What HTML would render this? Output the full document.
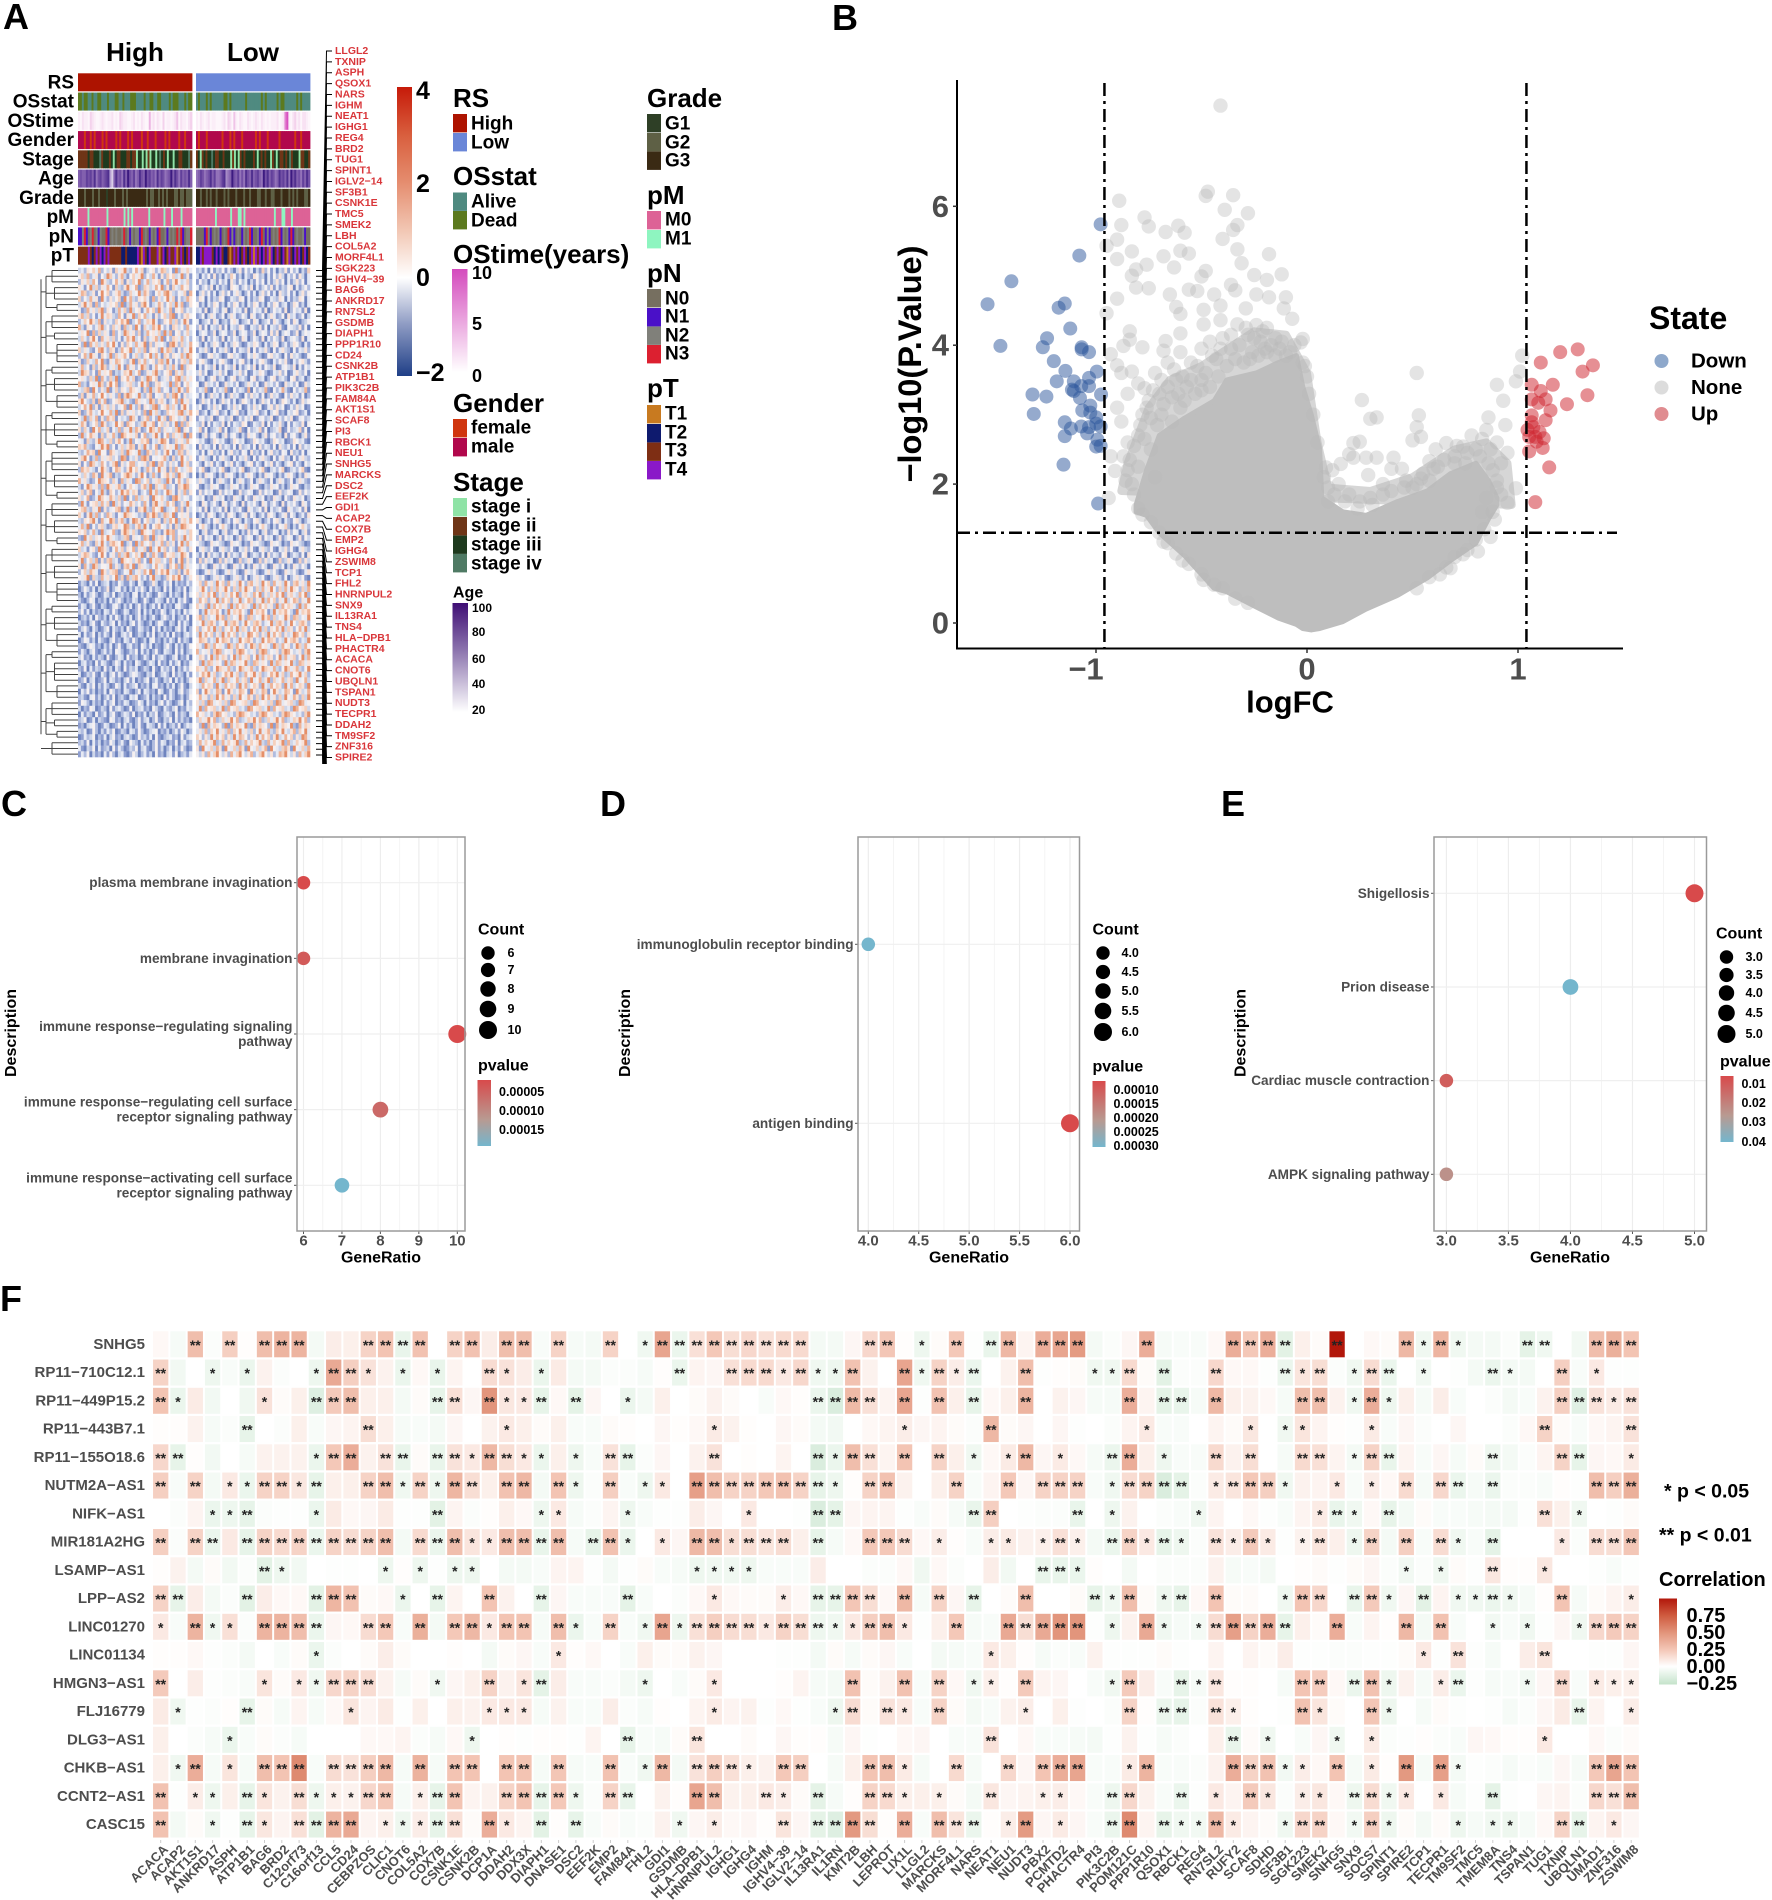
<!DOCTYPE html>
<html lang="en">
<head>
<meta charset="utf-8">
<title>Multi-panel figure</title>
<style>
html,body{margin:0;padding:0;background:#fff;}
svg{display:block;}
text{font-family:"Liberation Sans",sans-serif;font-weight:700;dominant-baseline:central;fill:#000;}
.g{fill:#4d4d4d;}
.star{dominant-baseline:auto;fill:#222;}
.panel{font-size:36px;dominant-baseline:auto;}
.h{font-size:26px;}
.l{font-size:19px;}
.t{font-size:16px;}
.s{font-size:12.5px;}
</style>
</head>
<body>
<svg id="root" xmlns="http://www.w3.org/2000/svg" width="1772" height="1900" viewBox="0 0 1772 1900">
<defs>
<linearGradient id="gExpr" x1="0" y1="0" x2="0" y2="1"><stop offset="0" stop-color="#c61a09"/><stop offset=".17" stop-color="#d9603f"/><stop offset=".33" stop-color="#e58d6f"/><stop offset=".5" stop-color="#f2c8b5"/><stop offset=".66" stop-color="#fff"/><stop offset=".82" stop-color="#8f9cc4"/><stop offset="1" stop-color="#1f3f87"/></linearGradient>
<linearGradient id="gTime" x1="0" y1="0" x2="0" y2="1"><stop offset="0" stop-color="#d44bbd"/><stop offset="1" stop-color="#fff"/></linearGradient>
<linearGradient id="gAge" x1="0" y1="0" x2="0" y2="1"><stop offset="0" stop-color="#3f0f75"/><stop offset=".45" stop-color="#8f78b0"/><stop offset="1" stop-color="#fff"/></linearGradient>
<linearGradient id="gP" x1="0" y1="0" x2="0" y2="1"><stop offset="0" stop-color="#d84a4b"/><stop offset=".6" stop-color="#b89a92"/><stop offset="1" stop-color="#74b6cd"/></linearGradient>
<linearGradient id="gCorr" x1="0" y1="0" x2="0" y2="1"><stop offset="0" stop-color="#b2170b"/><stop offset=".2" stop-color="#cf5c40"/><stop offset=".4" stop-color="#e2957c"/><stop offset=".6" stop-color="#f4c8b8"/><stop offset=".79" stop-color="#fff"/><stop offset="1" stop-color="#c4e3ca"/></linearGradient>
<clipPath id="clipGenes"><rect x="300" y="30" width="120" height="734"/></clipPath>
</defs>

<text class="panel" x="3" y="29">A</text>
<text class="panel" x="832" y="30">B</text>
<text class="panel" x="1" y="816">C</text>
<text class="panel" x="600" y="816">D</text>
<text class="panel" x="1221" y="816">E</text>
<text class="panel" x="0" y="1311">F</text>

<!-- Panel A titles -->
<text class="h" x="135" y="52" text-anchor="middle">High</text>
<text class="h" x="253" y="52" text-anchor="middle">Low</text>

<!-- Panel A expression colour bar -->
<rect x="397" y="87" width="15" height="289" fill="url(#gExpr)"/>
<text x="416" y="91" font-size="25">4</text>
<text x="416" y="184" font-size="25">2</text>
<text x="416" y="278" font-size="25">0</text>
<text x="416" y="373" font-size="25">−2</text>

<!-- Panel A legends, first column -->
<g>
<text class="h" x="453" y="98">RS</text>
<rect x="453" y="114" width="14" height="18.4" fill="#ad1300"/><rect x="453" y="133" width="14" height="18.4" fill="#6a86d8"/>
<text class="l" x="471" y="124">High</text><text class="l" x="471" y="143">Low</text>
</g>
<g>
<text class="h" x="453" y="176">OSstat</text>
<rect x="453" y="192.500" width="14" height="18.400" fill="#4f8a80"/><rect x="453" y="211" width="14" height="18.400" fill="#5c7a1e"/>
<text class="l" x="471" y="202">Alive</text><text class="l" x="471" y="221">Dead</text>
</g>
<g>
<text class="h" x="453" y="254">OStime(years)</text>
<rect x="452" y="269" width="15.500" height="103" fill="url(#gTime)"/>
<text x="472" y="273" font-size="18">10</text><text x="472" y="324" font-size="18">5</text><text x="472" y="376" font-size="18">0</text>
</g>
<g>
<text class="h" x="453" y="403">Gender</text>
<rect x="453" y="419" width="14" height="18.400" fill="#d0360f"/><rect x="453" y="438" width="14" height="18.400" fill="#b1084c"/>
<text class="l" x="471" y="428">female</text><text class="l" x="471" y="447">male</text>
</g>
<g>
<text class="h" x="453" y="482">Stage</text>
<rect x="453" y="498" width="14" height="18.400" fill="#8fe3a6"/><rect x="453" y="517" width="14" height="18.400" fill="#6e3517"/><rect x="453" y="535.500" width="14" height="18.400" fill="#1e3a1e"/><rect x="453" y="554" width="14" height="18.400" fill="#4f7a64"/>
<text class="l" x="471" y="507">stage i</text><text class="l" x="471" y="526">stage ii</text><text class="l" x="471" y="545">stage iii</text><text class="l" x="471" y="564">stage iv</text>
</g>
<g>
<text class="t" x="453" y="593">Age</text>
<rect x="452.500" y="603" width="15.500" height="109" fill="url(#gAge)"/>
<text x="472" y="608" font-size="12">100</text><text x="472" y="632" font-size="12">80</text><text x="472" y="659" font-size="12">60</text><text x="472" y="684" font-size="12">40</text><text x="472" y="710" font-size="12">20</text>
</g>

<!-- Panel A legends, second column -->
<g>
<text class="h" x="647" y="98">Grade</text>
<rect x="647" y="114" width="14" height="18.400" fill="#2e3f26"/><rect x="647" y="133" width="14" height="18.400" fill="#5e6045"/><rect x="647" y="151.500" width="14" height="18.400" fill="#3a2a14"/>
<text class="l" x="665" y="124">G1</text><text class="l" x="665" y="143">G2</text><text class="l" x="665" y="161">G3</text>
</g>
<g>
<text class="h" x="647" y="195">pM</text>
<rect x="647" y="211" width="14" height="18.400" fill="#dd6296"/><rect x="647" y="230" width="14" height="18.400" fill="#8ef5c0"/>
<text class="l" x="665" y="220">M0</text><text class="l" x="665" y="239">M1</text>
</g>
<g>
<text class="h" x="647" y="273">pN</text>
<rect x="647" y="289" width="14" height="18.400" fill="#766f60"/><rect x="647" y="308" width="14" height="18.400" fill="#4a10c8"/><rect x="647" y="326.500" width="14" height="18.400" fill="#80807a"/><rect x="647" y="345" width="14" height="18.400" fill="#dc2030"/>
<text class="l" x="665" y="299">N0</text><text class="l" x="665" y="317">N1</text><text class="l" x="665" y="336">N2</text><text class="l" x="665" y="354">N3</text>
</g>
<g>
<text class="h" x="647" y="388">pT</text>
<rect x="647" y="405" width="14" height="18.400" fill="#c87a20"/><rect x="647" y="424" width="14" height="18.400" fill="#0e1a6e"/><rect x="647" y="442.500" width="14" height="18.400" fill="#7e2e14"/><rect x="647" y="461" width="14" height="18.400" fill="#8a18c8"/>
<text class="l" x="665" y="414">T1</text><text class="l" x="665" y="433">T2</text><text class="l" x="665" y="451">T3</text><text class="l" x="665" y="470">T4</text>
</g>

<!-- Panel B titles and legend -->
<text x="1290" y="702" font-size="31" text-anchor="middle">logFC</text>
<text x="910" y="364" font-size="32.500" text-anchor="middle" transform="rotate(-90 910 364)">−log10(P.Value)</text>
<g>
<text x="1649" y="318" font-size="32">State</text>
<circle cx="1661.500" cy="361" r="7" fill="#8ea8cb"/><circle cx="1661.500" cy="387.500" r="7" fill="#dcdcdc"/><circle cx="1661.500" cy="414" r="7" fill="#e08c90"/>
<text x="1691" y="361" font-size="20.500" fill="#222">Down</text><text x="1691" y="387.500" font-size="20.500">None</text><text x="1691" y="414" font-size="20.500">Up</text>
</g>

<!-- Dot plot legends -->
<g>
<text class="t" x="478" y="930">Count</text>
<circle cx="488" cy="953" r="6.700"/><circle cx="488" cy="970" r="7.100"/><circle cx="488" cy="989" r="7.700"/><circle cx="488" cy="1009" r="8.300"/><circle cx="488" cy="1030" r="9"/>
<text class="s" x="507.500" y="953">6</text><text class="s" x="507.500" y="970">7</text><text class="s" x="507.500" y="989">8</text><text class="s" x="507.500" y="1009">9</text><text class="s" x="507.500" y="1030">10</text>
</g>
<g>
<text class="t" x="478" y="1066">pvalue</text>
<rect x="477.500" y="1080" width="13.500" height="66" fill="url(#gP)"/>
<text class="s" x="499" y="1092">0.00005</text><text class="s" x="499" y="1111">0.00010</text><text class="s" x="499" y="1130">0.00015</text>
</g>
<g>
<text class="t" x="1092.500" y="930">Count</text>
<circle cx="1103" cy="953" r="6.700"/><circle cx="1103" cy="972" r="7.100"/><circle cx="1103" cy="991" r="7.700"/><circle cx="1103" cy="1011" r="8.300"/><circle cx="1103" cy="1032" r="9"/>
<text class="s" x="1121.500" y="953">4.0</text><text class="s" x="1121.500" y="972">4.5</text><text class="s" x="1121.500" y="991">5.0</text><text class="s" x="1121.500" y="1011">5.5</text><text class="s" x="1121.500" y="1032">6.0</text>
</g>
<g>
<text class="t" x="1092.500" y="1067">pvalue</text>
<rect x="1092.500" y="1081" width="13" height="66" fill="url(#gP)"/>
<text class="s" x="1113.500" y="1090">0.00010</text><text class="s" x="1113.500" y="1104">0.00015</text><text class="s" x="1113.500" y="1118">0.00020</text><text class="s" x="1113.500" y="1132">0.00025</text><text class="s" x="1113.500" y="1146">0.00030</text>
</g>
<g>
<text class="t" x="1716" y="934">Count</text>
<circle cx="1726.500" cy="957" r="6.700"/><circle cx="1726.500" cy="975" r="7.100"/><circle cx="1726.500" cy="993" r="7.700"/><circle cx="1726.500" cy="1013" r="8.300"/><circle cx="1726.500" cy="1034" r="9"/>
<text class="s" x="1745.500" y="957">3.0</text><text class="s" x="1745.500" y="975">3.5</text><text class="s" x="1745.500" y="993">4.0</text><text class="s" x="1745.500" y="1013">4.5</text><text class="s" x="1745.500" y="1034">5.0</text>
</g>
<g>
<text class="t" x="1720" y="1062">pvalue</text>
<rect x="1720.500" y="1076" width="13" height="66" fill="url(#gP)"/>
<text class="s" x="1741.500" y="1084">0.01</text><text class="s" x="1741.500" y="1103">0.02</text><text class="s" x="1741.500" y="1122">0.03</text><text class="s" x="1741.500" y="1142">0.04</text>
</g>

<!-- Panel F legend -->
<text x="1664" y="1491.500" font-size="19.500">* p &lt; 0.05</text>
<text x="1659" y="1535.500" font-size="19.500">** p &lt; 0.01</text>
<g>
<text x="1659" y="1580" font-size="20">Correlation</text>
<rect x="1659" y="1598.500" width="18" height="86" fill="url(#gCorr)"/>
<text x="1686.500" y="1616" font-size="20">0.75</text><text x="1686.500" y="1633" font-size="20">0.50</text><text x="1686.500" y="1650" font-size="20">0.25</text><text x="1686.500" y="1667" font-size="20">0.00</text><text x="1686.500" y="1684" font-size="20">−0.25</text>
</g>
</svg>

<script>
/* ---------- Panel A: annotation tracks ---------- */
const trackNames = ["RS","OSstat","OStime","Gender","Stage","Age","Grade","pM","pN","pT"];
const trackHigh = [
"h",
"ddaddaadaaddaaadaaaddaadaaadddaaaadaaddaaddaaaadadddaaadadd",
"1021103210012101120103211001201021005120210301101240211023",
"mmmfmmfmfmmmfmfmmmmfmfmmmfmfmmmmfmmfmmmfmmmmfmfmmmmfmmfmmm",
"bbbbbcbbcccdbcccbcicbbcccbbcbbiccicibiccicdcbcicciccbbcccdb",
"5655767584675678205856485965745865967564857645695864756585",
"cccbcccbccbcccacccbcccbcbcccccccccbcbbccbcbcbcccbbcbbcbbb",
"aaaaabaaaaaaaaabaaaaaaaabababaaaaaaaabaaaaaaabaaabaaaabaaaaa",
"bbcdbacdacbcaadbacacaacdacbcaccbdacabcacbdaacbcacadcdbaccd",
"cccccdcbcdcdbdcdccccccbbcbbbbbdcadcbdcccdacdbcdccdacdcbcdc"];
const trackLow = [
"l",
"adaaadadaaaaaaddadaaaaaaadaaaaaaadadaaaaadaddaaaaaadadaaaa",
"1021012011000120320410210021012102101011120127810231202210",
"mfmmmfmmmmmmmfmmmfmfmmmfmmmmmmfmfmmmfmmmmmfmmmmmmmfmmfmmmm",
"bcibcbccdcbbccbcccibicibcbccccbcicbcbccibcicbbcbcdbcccibbccb",
"4576456857445783459657464865856754968576458675849685647586",
"ccbccbcbccbcccbcbcccbcccbccbcccbbccbccbbcccbcccbcbcbcccbbc",
"aaaaaaaaaabaaaaaaabaaabbabaaaaaaaaaaaaaaabaaabbaaabaaaaaaaaa",
"aaaabdcbacacbacadbcbacabcacdbaacbdabcbacacdbcacbdbacaacbaa",
"bbdcddddcbdbdcbbcacdcdbcdcbcdadcdbdcdadbcdcbdcadcbdcdbcdbc"];

/* ---------- Panel A: expression levels (0 low - 9 high), one string per gene row ---------- */
const exprHigh = [
"3426574825361746932584713562487351926474","5738246153974268315746925384162757349261","2647385196325847163759248365714826953472","6415937264851732694581276348592617438562","4872361595724683127459386215748963254718",
"7253846194263571948326574182635947152386","3694718253465729138462795134862573948126","5128463792651384729356148572963481657243","6837251494763285164927583416257389142675","2475963816342758691358247694126583724961",
"8316524793527461836295174386952417635284","4659182736418253974627138564729381562473","3742695184637251486935172468391527648352","5291847363859416275384691726453189627348","7364215894276138569247381656294873152649",
"2583964175392746851473265938417626548397","6127438592164875326917483562783941526738","4835172697246395184625973148562738419265","3976251846581324769358126479325681747254","5642739184273916584712639857134625893746",
"8231564972695813467325948126754392861574","4378195263914726538654172936825417396285","2716483595364281797549326815462738951634","6953271848125679342186453972674135829463","3584926174736245819427165389256837416952",
"7126843595483917264635281947312756489368","5392748162867153429741368252947186534716","4861357296234957186523794681573624918275","6274195834715382649386125974826453791652","2935864172648319756471582369415827463918",
"5417326984372685139254768143698512746385","7683215496925147368716394258137564928643","3248671955186437296549218637426951387264","4795138264673529814362897154568317249536","6152974385247916358835462791784263519472",
"2867431596315874269574138625946172853467","5374286194681325797426951383156847296531","8463125976527418364198357246732961584275","3159746282964683157542683917468235176984","4726815393175249684761352948325974163826",
"6358124975486372915283746196574218963542","2941567384719362548635284179463857126394","5783264916245781392417693285691345827163","7416938252863154976542318697238749156462","3265794184597268314986157324617385926748",
"4839152673126745983268394157854261739865","6572483193458216974731965482316978254637","2194736585964323781645287193675148263947","5836217494278659136193845726482736159384","7341562986315847265826471935947253186426",
"3687421595146283793574916286218567349751","4925738162783419656368251947735284169263","6184297355492631784917643258463175829364","2573864196367812549246385917586943271685","5469173284635927183785241693312758694136",
"1320415023402153114205301263014250312142","0253140312602451303142520413205140231503","2041352014315023120450314201532041320514","3102540213041352021430152014320513042510","1430251032014520314025130241503120452103",
"2514031204315201430125041302153024130524","0231405213041520314025130241035214023150","3120351042135041203514201302541032051420","1352042013504213052014312051403120351402","4041250314205103425013204150231405120342",
"0254130421035120431520130451203142051320","2103541203140251034120531402103520413025","1420351024130542013250413025104320514023","3512041320510243051230142051342013502140","0341205143102530412053102430512041350214",
"2150413205130420513240132051042315031425","4013251042035142013542103250134205132041","1250340125043120351402135024103250413025","3104250314201530412350213045120314025103","0425130214053120431025043120530142035124",
"2310451302415023104350124031205142013025","1542031204135021430125304120351420135042","3021540132051342015023412053104213502143","0413205124035102431502140325013420513204","2350140321054120341025134025103250413120",
"1203452014301250413025104320514023150243","3240152031425013204315201345021302415302","0142350214035120342015231405102341205134","2315041302153024105320413025143021503412","4103250412305142013250341025130240315201",
"1425031204152034102530241305120341502314"];
const exprLow = [
"2314051325142036152403172514032615240317","3042516130427513042165230415263042516304","1523043152406315240315250413625041362504","4135260413206541352604135261413256041352","0362514036251463025140362514063251403625",
"2650413265014326504132650143265041326504","5130426513042651304265130426513402651304","3416025314602534160253416025341602534160","1250364125036412530641250364125063412503","4023516402315640235164023516420351640235",
"2615043261504326510432615043261054326150","0354126035412603541260354162603541260354","3160425316042531640253160425316024531604","5204136520413652014365204136502413652041","1436205143620514326051436205146320514362",
"4201563420156342015364201563420516342015","2563104256310425613042563104253610425631","0415326041532604135260415326014532604153","3625014362501436250143652014362501463250","1340256134025613420561340256134205613402",
"5016342501634250136425016342510634250163","2438105243810524318052438105248310524381","4150263415026341052634150263410526341502","0263514026351402653140263514026531402635","3501426350142635014263501462635014263501",
"6124035612403561204356124035612043561240","1452360145236014253601452360142536014523","3260514326051432650143260514362051432605","4715023471502347105234715023470152347150","2036145203614520316452036145230614520361",
"5341026534102653401265341026534012653410","0624315062431506234150624315063241506243","3150462315046231540623150462315406231504","1463205146320514362051463205146230514632","4205361420536142035614205361420356142053",
"2571034257103425701342571034257013425710","0316452031645203146520316452031465203164","3642150364215036412503642150364125036421","5103264510326451302645103264513026451032","1625340162534016235401625340162354016253",
"4350216435021643052164350216430521643502","2064135206413520614352064135206143520641","3516042351604235106423516042351064235160","0241653024165302461530241653024615302416","6302415630241563042156302415630421563024",
"1574203157420315472031574203154720315742","4036125403612540316254036125403162540361","2615340261534026135402615340261354026153","5320164532016453021645320164530216453201","0463251046325104362510463251043625104632",
"3150624315062431560243150624315602431506","1726340172634017236401726340172364017263","4253016425301642503164253016425031642530","2014635201463520164352014635201643520146","6351024635102463150246351024631502463510",
"5728463957284639527846395728463952784639","4695273846952738496527384695273849652738","6374859263748592674385926374859267438592","3857264938572649358726493857264935872649","7462938574629385764293857462938576429385",
"5139476851394768531947685139476853194768","6827354968273549628735496827354962873549","4593786245937862495378624593786249537862","7265849372658493762584937265849376258493","3948572639485726349857263948572634985726",
"5876243958762439578624395876243957862439","6429738564297385624973856429738562497385","8354627983546279853462798354627985346279","4762593847625938467259384762593846725938","5293874652938746593287465293874659328746",
"7648325976483259746832597648325974683259","3586947235869472385694723586947238569472","6927458369274583672945836927458367294583","4385762943857629483576294385762948357629","7159634871596348751963487159634875196348",
"5846273958462739548627395846273954862739","6372984563729845673298456372984567329845","4928567349285673429856734928567342985673","8563427985634279865342798563427986534279","3746958237469582347695823746958234769582",
"5291847652918476592184765291847659218476","4638275946382759463725946832759436827594","7526394857263948752639485726934857263984","3847569238475692384756932847569283475692","6195473861954738619547368195437861954738",
"5362847953628479536824795362487953628479"];

/* ---------- Panel A: gene labels ---------- */
const geneLabels = ["LLGL2","TXNIP","ASPH","QSOX1","NARS","IGHM","NEAT1","IGHG1","REG4","BRD2","TUG1","SPINT1","IGLV2−14","SF3B1","CSNK1E","TMC5","SMEK2","LBH","COL5A2","MORF4L1","SGK223","IGHV4−39","BAG6","ANKRD17","RN7SL2","GSDMB","DIAPH1","PPP1R10","CD24","CSNK2B","ATP1B1","PIK3C2B","FAM84A","AKT1S1","SCAF8","PI3","RBCK1","NEU1","SNHG5","MARCKS","DSC2","EEF2K","GDI1","ACAP2","COX7B","EMP2","IGHG4","ZSWIM8","TCP1","FHL2","HNRNPUL2","SNX9","IL13RA1","TNS4","HLA−DPB1","PHACTR4","ACACA","CNOT6","UBQLN1","TSPAN1","NUDT3","TECPR1","DDAH2","TM9SF2","ZNF316","SPIRE2","LEPROT"];
const dendroGroups = [3,3,2,3,2,4,2,3,3,2,3,2,4,3,2,3,3,2,3,3,4,2,3,3,2,4,3,3,2,2,3];

/* ---------- Panel B: volcano data ---------- */
const yTicksB = [0,2,4,6];
const xTicksB = [-1,0,1];
const logFcCutoffs = [-0.96,1.04];
const pCutoffs = [1.3];
const cloudLogFC = [-0.88,-0.85,-0.75,-0.65,-0.5,-0.4,-0.25,-0.1,0,0.05,0.1,0.3,0.5,0.7,0.85,0.95,0.97];
const cloudTop = [1.9,2.3,3.1,3.5,3.7,3.9,4.2,4.15,3.6,2.6,1.95,1.9,2.1,2.5,2.6,2.3,1.7];
const blobLogFC = [-0.81,-0.76,-0.70,-0.58,-0.44,-0.38,-0.24,-0.135,-0.05,-0.02,0.02,0.06,0.07,0.17,0.28,0.43,0.57,0.68,0.80,0.86,0.90];
const blobTop = [1.7,2.2,2.7,2.95,3.2,3.5,3.6,3.75,3.85,3.4,3.0,2.5,1.8,1.6,1.55,1.75,1.9,2.15,2.3,2.05,1.8];
const blobBottom = [1.6,1.55,1.3,0.97,0.5,0.45,0.23,0.07,-0.02,-0.08,-0.1,-0.08,-0.07,0.02,0.2,0.4,0.65,0.9,1.15,1.5,1.7];
const noneLogFC = [-0.41,-0.47,-0.48,-0.35,-0.89,-0.39,-0.28,-0.77,-0.88,-0.75,-0.61,-0.58,-0.67,-0.33,-0.35,-0.90,-0.40,-0.95,-0.83,-0.90,-0.33,-0.60,-0.56,-0.68,-0.18,-0.31,-0.76,-0.63,-0.81,-0.48,-0.50,-0.83,-0.25,-0.12,-0.19,-0.81,-0.75,-0.36,-0.34,-0.56,-0.52,-0.65,-0.90,-0.24,-0.44,-0.10,-0.18,-0.29,-0.62,-0.60,-0.49,-0.41,-0.95,-0.11,-0.07,-0.49,-0.41,-0.24,-0.84,-0.60,-0.67,-0.19,-0.87,-0.78,-0.68,-0.84,-0.93,-0.90,-0.83,-0.77,-0.02,-0.03,0.52,1.02,1.01,0.99,0.90,0.93,0.26,0.53,0.30,0.33,0.52,0.50,0.54,0.22,0.25,0.20,0.16,0.09,0.41,0.22,0.28,0.33,0.61,0.66,0.71,0.78,0.85,0.86,0.94,0.45,0.40,0.54,0.29,0.81,0.74,0.68,0.63,0.87,0.89,-0.94,-0.91,-0.93,-0.59,-0.68,-0.49,-0.44,-0.28,-0.78,0.95,0.99,0.74,0.58,0.60,
-0.88,-0.85,-0.80,-0.75,-0.72,-0.70,-0.66,-0.62,-0.60,-0.58,-0.55,-0.50,-0.50,-0.46,-0.43,-0.40,-0.36,-0.33,-0.28,-0.26,-0.22,-0.20,-0.15,-0.13,-0.10,0.00,-0.01,-0.85,-0.88,-0.90,-0.87,-0.85,-0.83,-0.80,-0.78,-0.74,-0.69,-0.64,-0.60,-0.82,-0.72,0.75,0.80,0.83,0.87,0.90,0.92,0.95,0.88,0.90,0.85,0.83,0.55,0.50,0.47,0.36,0.20,0.25,0.15,0.12,0.10,0.65,0.70,0.30,
-0.86,-0.84,-0.82,-0.80,-0.79,-0.77,-0.76,-0.74,-0.73,-0.71,-0.69,-0.68,-0.66,-0.64,-0.63,-0.61,-0.59,-0.57,-0.55,-0.53,-0.52,-0.50,-0.48,-0.46,-0.45,-0.42,-0.41,-0.38,-0.36,-0.34,-0.32,-0.30,-0.29,-0.27,-0.25,-0.23,-0.21,-0.19,-0.17,-0.15,-0.12,-0.08,-0.06,-0.02,0.01,0.03,0.05,0.08,0.10,0.13,0.18,0.24,0.31,0.36,0.40,0.46,0.52,0.58,0.62,0.70,0.76,0.82,0.86,0.90,0.92,0.88,0.84,0.80,0.76,0.70,0.66,0.58,0.52,-0.62,-0.66,-0.70,-0.74,-0.80,-0.56,-0.50,-0.40,-0.34];
const noneNegLogP = [7.45,6.21,6.15,6.16,6.08,5.95,5.90,5.84,5.73,5.71,5.72,5.62,5.63,5.73,5.66,5.52,5.53,5.43,5.35,5.24,5.38,5.36,5.32,5.28,5.31,5.18,5.16,5.12,5.09,5.07,4.99,5.00,5.01,5.02,4.94,4.83,4.82,4.87,4.79,4.80,4.78,4.73,4.67,4.73,4.73,4.69,4.69,4.53,4.55,4.45,4.51,4.57,4.46,4.53,4.38,4.30,4.36,4.29,4.20,4.17,4.06,4.25,3.99,3.97,3.92,4.08,3.87,3.71,3.62,3.38,4.09,4.04,3.60,3.85,3.62,3.48,3.43,3.20,3.21,2.99,2.94,2.96,2.82,2.63,2.68,2.59,2.61,2.43,2.29,2.24,2.38,2.38,2.38,2.38,2.50,2.59,2.55,2.70,2.78,2.96,2.85,2.22,2.22,2.08,2.13,1.03,0.99,0.79,0.70,1.24,1.49,1.80,2.19,2.40,0.90,1.17,0.62,0.55,0.29,1.56,1.73,1.94,2.54,2.33,2.22,
3.60,3.30,3.45,3.20,3.60,3.30,3.75,3.50,3.90,3.20,3.75,3.95,3.50,4.05,3.80,4.10,3.95,4.30,4.15,3.90,4.05,3.95,4.10,3.95,3.85,3.55,3.70,2.60,2.90,3.10,2.40,2.20,2.00,2.70,3.00,2.50,3.00,2.90,3.10,1.85,2.10,2.30,2.50,2.65,2.50,2.60,2.30,2.45,2.20,1.95,1.80,1.60,2.15,1.95,2.05,2.00,1.85,1.75,2.00,2.20,1.95,2.35,2.30,1.80,
2.05,2.35,2.55,2.25,2.85,2.65,3.10,2.95,3.35,2.85,3.50,3.15,3.40,3.25,3.65,3.30,3.55,3.40,3.50,3.30,3.70,3.35,3.60,3.40,3.85,3.55,3.95,3.70,4.15,3.80,4.00,3.75,4.25,3.80,4.10,3.85,4.20,3.90,4.00,3.85,4.05,3.90,4.00,3.75,3.30,3.00,2.60,2.10,1.75,1.85,1.75,1.65,1.70,1.85,1.90,1.95,2.00,2.05,2.25,2.40,2.45,2.40,2.30,2.05,1.85,1.60,1.35,1.20,1.05,0.95,0.80,0.66,0.50,1.00,1.15,1.30,1.45,1.65,0.85,0.70,0.50,0.35];
const downLogFC = [-0.978,-1.079,-1.401,-1.514,-1.148,-1.177,-1.122,-1.232,-1.252,-1.453,-1.068,-1.033,-1.068,-1.200,-1.145,-0.996,-1.033,-1.186,-1.105,-1.301,-1.235,-1.114,-1.070,-1.033,-0.976,-1.105,-1.076,-1.027,-1.065,-1.295,-1.027,-0.999,-1.148,-1.119,-1.070,-1.033,-0.999,-0.978,-1.042,-1.148,-0.993,-0.999,-0.978,-1.154,-0.990];
const downNegLogP = [5.74,5.29,4.92,4.59,4.60,4.54,4.24,4.10,3.97,3.99,3.94,3.90,3.97,3.77,3.63,3.62,3.53,3.48,3.48,3.29,3.26,3.36,3.41,3.41,3.29,3.34,3.24,3.13,3.06,3.01,3.03,2.96,2.89,2.80,2.83,2.82,2.87,2.83,2.73,2.69,2.64,2.54,2.55,2.28,1.72];
const upLogFC = [1.108,1.200,1.283,1.355,1.306,1.165,1.329,1.065,1.108,1.232,1.065,1.131,1.096,1.154,1.065,1.131,1.045,1.073,1.102,1.053,1.122,1.088,1.117,1.053,1.148,1.082,1.065,1.082];
const upNegLogP = [3.75,3.90,3.94,3.71,3.62,3.43,3.28,3.43,3.34,3.15,3.22,3.22,3.17,3.06,2.99,2.92,2.78,2.82,2.75,2.68,2.66,2.61,2.52,2.47,2.24,1.74,2.89,2.68];

/* ---------- Panels C, D, E: dot plots ---------- */
const cTerms = ["plasma membrane invagination","membrane invagination","immune response−regulating signaling\npathway","immune response−regulating cell surface\nreceptor signaling pathway","immune response−activating cell surface\nreceptor signaling pathway"];
const cGeneRatio = [6,6,10,8,7];
const cCount = [6,6,10,8,7];
const cPvalue = [0.00002,0.00004,0.00002,0.00006,0.00019];
const cTicks = [6,7,8,9,10];
const dTerms = ["immunoglobulin receptor binding","antigen binding"];
const dGeneRatio = [4,6];
const dCount = [4,6];
const dPvalue = [0.0003,0.00007];
const dTicks = [4,4.5,5,5.5,6];
const eTerms = ["Shigellosis","Prion disease","Cardiac muscle contraction","AMPK signaling pathway"];
const eGeneRatio = [5,4,3,3];
const eCount = [5,4,3,3];
const ePvalue = [0.006,0.04,0.011,0.024];
const eTicks = [3,3.5,4,4.5,5];

/* ---------- Panel F: correlation heatmap ---------- */
const corrRowLabels = ["SNHG5","RP11−710C12.1","RP11−449P15.2","RP11−443B7.1","RP11−155O18.6","NUTM2A−AS1","NIFK−AS1","MIR181A2HG","LSAMP−AS1","LPP−AS2","LINC01270","LINC01134","HMGN3−AS1","FLJ16779","DLG3−AS1","CHKB−AS1","CCNT2−AS1","CASC15"];
const corrColLabels = ["ACACA","ACAP2","AKT1S1","ANKRD17","ASPH","ATP1B1","BAG6","BRD2","C12orf73","C16orf13","CCL5","CD24","CEBPZOS","CLIC1","CNOT6","COL5A2","COX7B","CSNK1E","CSNK2B","DCP1A","DDAH2","DDX3X","DIAPH1","DNASE1","DSC2","EEF2K","EMP2","FAM84A","FHL2","GDI1","GSDMB","HLA−DPB1","HNRNPUL2","IGHG1","IGHG4","IGHM","IGHV4−39","IGLV2−14","IL13RA1","IL1RN","KMT2B","LBH","LEPROT","LIX1L","LLGL2","MARCKS","MORF4L1","NARS","NEAT1","NEU1","NUDT3","PBX2","PCMTD2","PHACTR4","PI3","PIK3C2B","POM121C","PPP1R10","QSOX1","RBCK1","REG4","RN7SL2","RUFY2","SCAF8","SDHD","SF3B1","SGK223","SMEK2","SNHG5","SNX9","SOCS7","SPINT1","SPIRE2","TCP1","TECPR1","TM9SF2","TMC5","TMEM8A","TNS4","TSPAN1","TUG1","TXNIP","UBQLN1","UMAD1","ZNF316","ZSWIM8"];
/* correlation x 100 */
const corrValues = [
[3,-4,30,-2,22,1,30,35,35,-5,8,7,20,27,-10,28,0,20,28,8,30,30,-3,20,-4,-5,20,0,-7,42,-9,14,25,15,18,14,17,17,-5,-5,4,18,26,1,-8,2,25,-1,-10,33,5,38,42,47,-5,-2,4,38,-4,-3,-3,3,38,25,38,-13,7,2,100,0,3,2,33,-7,35,-7,-5,-5,-2,-12,-7,0,-6,30,37,27],
[20,-6,0,-8,-3,-9,6,-2,0,-8,40,22,13,6,-9,3,-10,5,0,16,13,8,-9,9,-5,-5,-2,-2,-4,1,-9,5,4,14,17,17,10,18,-7,-8,28,6,0,42,-7,20,8,-9,0,6,30,-1,1,2,-7,-7,17,2,-13,-2,-2,18,3,3,-1,-9,12,15,-2,-7,16,-9,0,-6,0,-1,-5,-9,-5,-5,0,22,-3,10,-1,-1],
[27,-9,9,-6,0,-7,13,2,7,-15,24,30,7,7,-5,2,-11,14,4,50,11,10,-11,3,-12,4,0,-9,-5,7,0,2,6,2,0,-3,3,1,-9,-17,32,14,5,42,-1,28,7,-11,3,7,35,0,6,4,-4,-4,38,5,-12,-10,-4,33,7,6,3,-4,30,30,6,-7,38,-8,7,-4,8,-3,0,-2,-5,-3,6,22,-14,13,9,13],
[1,1,6,-4,-2,-11,0,-2,7,-3,4,5,15,7,-4,-3,-5,4,0,6,10,7,2,7,-3,-3,2,1,0,4,1,3,9,6,1,0,4,2,-5,-6,0,3,5,8,4,5,2,-2,33,2,4,0,4,-1,0,-2,5,10,-3,-3,0,5,2,11,0,-7,12,5,1,-1,9,-3,4,-2,0,4,0,0,-2,3,20,2,-3,3,5,13],
[18,-11,1,-6,0,-4,6,6,6,-9,25,38,6,13,-10,2,-10,13,10,33,15,10,-9,7,-8,-3,13,-11,-2,4,0,6,13,0,1,0,5,0,-17,-9,30,14,5,27,0,20,7,-7,3,9,33,4,9,3,-4,-9,38,7,-8,-3,-3,17,6,15,0,-4,17,14,5,-5,20,-10,5,-3,4,-4,2,-8,-5,-2,5,20,-11,4,3,9],
[22,-3,20,-5,10,-9,20,20,11,-11,7,7,20,30,-7,20,-8,34,15,7,28,33,-5,27,-8,-2,22,-3,-8,10,0,45,30,20,20,25,28,20,-11,-8,1,20,28,6,0,7,20,-3,5,25,4,20,20,20,-3,-7,16,20,-17,-12,-2,9,12,25,22,-7,6,5,10,-3,8,3,17,-4,18,-9,-4,-9,-2,-2,-3,1,-1,30,22,37],
[0,-2,5,-9,-8,-11,-2,-1,-1,-9,9,3,4,9,-1,-1,-13,5,-2,1,7,3,-8,10,-4,-2,5,-8,-3,-1,-1,8,4,0,10,0,0,-1,-17,-12,4,5,5,-1,-3,2,-4,-10,22,0,-1,-2,-2,-10,0,-8,6,0,-2,-3,-7,5,0,3,-1,-3,5,9,-10,-7,3,-11,-5,2,-3,-3,-4,-5,-5,-1,14,7,-7,0,-1,2],
[22,-2,20,-9,10,-11,20,17,20,-9,20,16,20,30,-5,17,-9,30,12,10,30,30,-10,30,-4,-11,28,-9,0,10,4,33,30,15,15,12,16,7,-11,-4,3,25,25,16,3,8,1,-3,8,9,6,7,14,7,-5,-9,20,10,-11,-8,-2,13,8,24,9,-1,6,12,7,-8,20,-5,22,-3,16,-7,-3,-12,0,0,0,10,-2,16,15,26],
[1,6,-5,2,-6,-2,-13,-8,-6,0,-1,-1,0,-8,1,-8,-1,-8,-8,0,-5,-5,-3,5,5,-1,-5,-1,2,-3,-4,-8,-7,-7,-8,-3,-3,-3,8,0,0,-2,-2,3,-7,3,-2,0,8,-6,0,-10,-10,-9,1,0,-5,0,-2,-2,-2,6,-4,-3,-5,0,1,2,-1,2,4,-2,-6,-2,-7,2,-1,11,1,1,11,0,0,-1,-3,-1],
[20,-11,8,-5,-2,-13,8,3,3,-13,34,28,2,3,-9,0,-11,5,0,27,6,0,-11,4,-3,-3,-3,-12,-3,0,-2,3,10,3,2,2,8,3,-11,-11,26,15,3,33,-4,20,4,-11,0,2,30,0,0,2,-11,-7,30,2,-8,-11,3,27,2,2,0,-7,27,18,0,-10,24,-7,4,-13,5,-7,-7,-9,-7,-4,1,27,-4,2,5,8],
[10,-3,35,-7,14,-2,35,35,30,-9,4,3,16,25,-3,37,-5,25,33,10,27,27,-4,30,-9,-3,20,-3,-7,42,-8,14,22,16,15,10,20,15,-8,-7,10,22,30,10,-1,7,25,-4,-3,40,15,40,50,50,-1,-8,6,40,-7,-4,-5,16,45,20,38,-11,7,2,38,-3,5,1,33,-5,28,-3,0,-6,-3,-7,-1,4,-7,18,24,20],
[1,1,3,-1,-2,-5,0,-3,2,-9,-2,0,2,8,2,0,0,1,0,-5,2,4,-3,10,1,3,0,-3,7,2,2,6,4,0,0,0,-1,-1,-5,2,-4,2,4,-3,0,-5,-4,-3,10,7,1,-4,-2,-3,6,-1,-1,-1,2,-1,0,5,0,5,2,8,-1,-1,-2,-2,-1,-1,2,10,-1,13,-1,-4,0,8,12,0,0,-1,-1,4],
[24,0,8,-1,-2,-3,12,2,10,-7,18,20,16,6,-4,2,-7,4,7,20,6,12,-12,8,-3,-3,-2,-5,-8,0,-3,2,10,0,0,0,1,5,-4,-5,28,2,6,28,-3,20,3,-7,7,1,24,5,4,0,-3,-7,24,8,-3,-11,-4,11,1,1,0,-4,27,23,3,-9,28,-8,6,-4,8,-9,-1,-4,-3,-6,4,18,-3,9,7,7],
[9,-7,-1,-2,1,-11,2,-4,5,-4,3,12,5,9,-1,7,0,7,6,10,10,10,-4,6,-3,-3,8,-2,-4,1,0,5,9,5,6,-1,3,-1,-3,-8,16,2,13,10,-3,20,2,-5,-3,6,8,0,7,-1,0,-2,20,1,-9,-11,-2,13,7,1,0,-1,28,12,2,0,26,-8,0,-4,2,-1,0,-1,-4,-2,4,9,-10,5,0,8],
[7,0,-2,-4,-9,-3,2,-2,-4,0,0,0,3,3,5,-2,-4,3,-8,0,1,-1,1,1,-1,5,0,-11,-3,-4,2,12,0,0,2,0,4,1,1,-4,4,-1,0,3,4,0,-3,-3,13,0,3,-3,-3,-4,-5,-1,6,-1,-4,-2,0,7,-10,2,-7,0,-3,4,-7,0,9,-2,-1,1,-2,-3,4,3,1,1,10,0,0,3,-2,2],
[7,-7,38,-4,12,-4,30,27,55,-3,16,13,22,33,-4,36,-4,27,27,0,27,27,-4,26,-4,-3,28,-3,-7,33,-5,13,22,14,7,6,25,22,0,-4,7,27,30,9,-4,0,17,-4,0,18,4,27,38,42,-3,-3,9,35,-3,-3,-2,6,38,20,28,-6,8,3,27,-4,9,1,48,-4,45,-5,-1,-2,-4,-2,-3,4,-4,25,42,27],
[28,-1,8,-8,7,-11,12,6,15,-8,7,6,18,25,-4,7,-11,27,5,6,20,27,-11,25,-8,-2,20,-10,0,6,1,42,30,6,7,10,8,2,-12,-4,1,20,17,7,7,7,2,-5,11,4,5,7,8,3,-3,-8,18,6,-3,-9,-1,10,5,24,11,-2,8,11,3,-8,16,-7,10,0,10,-4,-1,-12,-1,0,4,5,-2,18,14,30],
[28,-5,2,-7,-1,-11,11,5,14,-13,35,40,5,7,-8,8,-11,14,2,38,10,5,-13,1,-11,-3,2,-3,-2,6,-7,4,8,3,4,1,12,4,-12,-15,48,15,1,38,-3,30,12,-9,1,8,47,4,9,4,-3,-9,55,5,-11,-7,-6,33,9,5,2,-7,18,20,3,-6,22,-8,2,-5,2,-8,-4,-7,-8,-4,3,20,-11,5,10,4]
];
/* number of significance stars per cell */
const corrStars = [
"0020202220 0022220220 220200 2012222222 2200022010 2022022200 02000 0222200200 0212100022 00222",
"2001010001 2210101002 101000 0000200222 1211200212 1200200011 20200 2000212012 2010002100 20100",
"2100001002 2200002202 112020 0100000000 0022220202 0200200000 20220 2000022012 1000000000 22212",
"0000020000 0020000000 100000 0000001000 0000000100 0020000000 01000 0010110001 0000000002 00002",
"2200000001 2202202212 211010 2200002000 0021220202 0101201002 20100 2020022012 2000002000 22001",
"2020112212 0022121220 220210 2011022222 2221022000 2002022201 22220 1222100101 0202202000 00222",
"0001120001 0000002000 001100 0100000010 0022000000 0220000201 00001 0000001210 2000000002 01000",
"2022022222 2222022211 222202 2101022122 2020022201 0011012102 21210 2121012012 0202102000 10222",
"0000002100 0001010110 000000 0000011110 0000000000 0000022100 00000 0000000000 0101002001 00000",
"2200020002 2200102002 002000 0200001000 1022220202 0200200021 20120 2000122022 1020112100 20001",
"1021102222 0022020221 220210 2012122221 2221122100 2002222201 02101 2222200200 0202001010 01222",
"0000000001 0000000000 000100 0000000000 0000000000 0010000000 00000 0000000000 0010200002 00000",
"2000001011 2220001002 012000 0010001000 0000200202 0110200001 20021 2000022022 1001200010 20111",
"0100020000 0100000001 110000 0000001000 0001202102 0000100000 20220 2100021002 1000000000 02001",
"0000100000 0000000010 000000 0200020000 0000000000 0020000000 00000 0201000101 0000000001 00000",
"0120102220 2222020220 220200 2012022210 2200022100 2002022200 12000 0222110201 0202100000 00222",
"2011021021 1122012200 222210 2200022002 1020022101 0020011002 20020 1021011022 1101002000 00222",
"2001021022 2201112202 102020 0000101000 2022220202 2201201002 20211 2100122012 1000101100 22010"
];

/* ---------- helpers ---------- */
const root = document.getElementById('root');
const NS = 'http://www.w3.org/2000/svg';
function mk(tag, attrs, parent) {
  const el = document.createElementNS(NS, tag);
  for (const k in attrs) el.setAttribute(k, attrs[k]);
  (parent || root).appendChild(el);
  return el;
}
function grp(name) {
  const g = document.createElementNS(NS, 'g');
  
  
  root.appendChild(g);
  return g;
}
function lerpHex(a, b, t) {
  const pa = [1,3,5].map(i => parseInt(a.substr(i,2),16));
  const pb = [1,3,5].map(i => parseInt(b.substr(i,2),16));
  return 'rgb(' + pa.map((v,i) => Math.round(v + (pb[i]-v)*t)).join(',') + ')';
}

/* ---------- Panel A drawing ---------- */
const trackColors = [
  {h:'#ad1300', l:'#6a86d8'},
  {a:'#4f8a80', d:'#5c7a1e'},
  {0:'#fdf6fb',1:'#fbeef8',2:'#f8e2f3',3:'#f4d2ec',4:'#f0c4e8',5:'#ecb4e2',6:'#e89ada',7:'#e27ed0',8:'#d850c0',9:'#d040b8'},
  {f:'#d0360f', m:'#b1084c'},
  {i:'#8fe3a6', b:'#6e3517', c:'#1e3a1e', d:'#4f7a64'},
  {0:'#d9cce6',1:'#c9b5dd',2:'#b7a0d2',3:'#a68bc6',4:'#9373b9',5:'#8260ae',6:'#7350a5',7:'#62409b',8:'#50308f',9:'#3c1a80'},
  {a:'#2e3f26', b:'#5e6045', c:'#3a2a14'},
  {a:'#dd6296', b:'#8ef5c0'},
  {a:'#766f60', b:'#4a10c8', c:'#80807a', d:'#dc2030'},
  {a:'#c87a20', b:'#0e1a6e', c:'#7e2e14', d:'#8a18c8'}
];
const highX0 = 78, lowX0 = 196, groupW = 114;
trackNames.forEach(function (name, t) {
  const y = 73.3 + 19.26 * t;
  const g = grp('annotation-track-' + name.toLowerCase());
  const lab = mk('text', {x:74, y:y+9.5, 'text-anchor':'end', 'font-size':19}, g);
  lab.textContent = name;
  
  
  [[trackHigh[t], highX0],[trackLow[t], lowX0]].forEach(function (pair) {
    const s = pair[0], w = groupW / s.length;
    for (let i = 0; i < s.length; i++) {
      const r = mk('rect', {x:pair[1]+i*w, y:y, width:w+0.4, height:18, fill:trackColors[t][s[i]]}, g);
      
      
    }
  });
});

const exprPalette = ['#6f84bf','#8e9ed0','#b0bcdf','#ced6ea','#e6e9f3','#f5f0f1','#f8e3da','#f5d0bd','#efb397','#e58f69'];
const heatTop = 267.7, heatBottom = 757;
const heatGroup = grp('expression-heatmap');
[[exprHigh, highX0],[exprLow, lowX0]].forEach(function (pair) {
  const rowH = (heatBottom - heatTop) / pair[0].length;
  pair[0].forEach(function (row, r) {
    const w = groupW / row.length;
    for (let c = 0; c < row.length; c++) {
      const cell = mk('rect', {x:pair[1]+c*w, y:heatTop+r*rowH, width:w+0.3, height:rowH+0.3, fill:exprPalette[+row[c]]}, heatGroup);
      
      
    }
  });
});

/* dendrogram */
(function () {
  const g = grp('row-dendrogram');
  const leaves = dendroGroups.reduce((a, b) => a + b, 0);
  const leafH = (heatBottom - heatTop) / leaves;
  let d = '', idx = 0, mids = [];
  dendroGroups.forEach(function (n, gi) {
    const xL = 52 + (gi % 3) * 2.5;
    const y1 = heatTop + (idx + 0.5) * leafH;
    for (let i = 0; i < n; i++) {
      const y = heatTop + (idx + 0.5) * leafH;
      d += 'M78 ' + y + 'H' + xL;
      idx++;
    }
    const y2 = heatTop + (idx - 0.5) * leafH;
    d += 'M' + xL + ' ' + y1 + 'V' + y2;
    const mid = (y1 + y2) / 2;
    d += 'M' + xL + ' ' + mid + 'H46';
    mids.push(mid);
  });
  for (let i = 0; i < mids.length; i += 3) {
    const a = mids[i], b = mids[Math.min(i + 2, mids.length - 1)];
    d += 'M46 ' + a + 'V' + b + 'M46 ' + (a + b) / 2 + 'H41';
  }
  d += 'M41 ' + (mids[0] + 3) + 'V' + mids[mids.length - 2];
  const p = mk('path', {d:d, fill:'none', stroke:'#444', 'stroke-width':1}, g);
  
  
})();

/* gene labels and connectors */
(function () {
  const g = grp('gene-labels');
  g.setAttribute('clip-path', 'url(#clipGenes)');
  let d = '';
  for (let i = 0; i < corrColLabels.length; i++) {
    const hy = 270.5 + 5.7 * i, ly = 51 + 10.87 * i;
    d += 'M316 ' + hy + 'H322.5L326.5 ' + ly + 'H332';
  }
  const p = mk('path', {d:d, fill:'none', stroke:'#000', 'stroke-width':1}, g);
  
  
  geneLabels.forEach(function (name, i) {
    const t = mk('text', {x:335, y:51 + 10.87 * i, 'font-size':10.5}, g);
    t.style.fill = '#d9363a';
    t.textContent = name;
    
    
  });
})();

/* ---------- Panel B drawing ---------- */
const xB = v => 1307 + 211 * v;
const yB = v => 623 - 69.45 * v;
(function () {
  const none = grp('none-points');
  const cloudPts = cloudLogFC.map((v,i) => xB(v) + ',' + yB(cloudTop[i])).join(' ');
  const cloud = mk('polygon', {points:cloudPts, fill:'#d6d6d6', stroke:'#d6d6d6', 'stroke-width':8, 'stroke-linejoin':'round'}, none);
  
  
  let pts = blobLogFC.map((v,i) => xB(v) + ',' + yB(blobTop[i]));
  pts = pts.concat(blobLogFC.map((v,i) => xB(v) + ',' + yB(blobBottom[i])).reverse());
  const blob = mk('polygon', {points:pts.join(' '), fill:'#bebebe', stroke:'#bebebe', 'stroke-width':5, 'stroke-linejoin':'round'}, none);
  
  
  noneLogFC.forEach(function (v, i) {
    const c = mk('circle', {cx:xB(v), cy:yB(noneNegLogP[i]), r:7.2, fill:'rgba(185,185,185,.38)'}, none);
    
    
  });

  const down = grp('down-points');
  downLogFC.forEach(function (v, i) {
    const c = mk('circle', {cx:xB(v), cy:yB(downNegLogP[i]), r:7, fill:'rgba(44,85,155,.5)'}, down);
    
    
  });
  const up = grp('up-points');
  upLogFC.forEach(function (v, i) {
    const c = mk('circle', {cx:xB(v), cy:yB(upNegLogP[i]), r:7, fill:'rgba(208,40,50,.52)'}, up);
    
    
  });

  const axes = grp('volcano-axes');
  const yAxis = mk('line', {x1:957, x2:957, y1:80, y2:649, stroke:'#000', 'stroke-width':2}, axes);
  
  
  const xAxis = mk('line', {x1:956, x2:1623, y1:648.5, y2:648.5, stroke:'#000', 'stroke-width':2}, axes);
  
  
  logFcCutoffs.forEach(function (v) {
    const l = mk('line', {x1:xB(v), x2:xB(v), y1:83, y2:648, stroke:'#000', 'stroke-width':2.5, 'stroke-dasharray':'13 5 3 5'}, axes);
    
    
  });
  pCutoffs.forEach(function (v) {
    const l = mk('line', {x1:957, x2:1617, y1:yB(v), y2:yB(v), stroke:'#000', 'stroke-width':2.5, 'stroke-dasharray':'13 5 3 5'}, axes);
    
    
  });
  yTicksB.forEach(function (v) {
    const tk = mk('line', {x1:953, x2:957, y1:yB(v), y2:yB(v), stroke:'#333', 'stroke-width':1.5}, axes);
    
    
    const t = mk('text', {x:949, y:yB(v), 'text-anchor':'end', 'font-size':31, class:'g'}, axes);
    t.textContent = v;
    
    
  });
  xTicksB.forEach(function (v) {
    const tk = mk('line', {x1:xB(v), x2:xB(v), y1:649, y2:653, stroke:'#333', 'stroke-width':1.5}, axes);
    
    
    const t = mk('text', {x:xB(v) - (v < 0 ? 10 : 0), y:669, 'text-anchor':'middle', 'font-size':31, class:'g'}, axes);
    t.textContent = String(v).replace('-', '−');
    
    
  });
})();

/* ---------- Dot plots ---------- */
function pColor(p, lo, hi) {
  const t = Math.max(0, Math.min(1, (p - lo) / (hi - lo)));
  return t < 0.6 ? lerpHex('#d84a4b', '#b89a92', t / 0.6) : lerpHex('#b89a92', '#74b6cd', (t - 0.6) / 0.4);
}
function dotPlot(o) {
  const g = grp(o.name);
  const x = v => o.x0 + (v - o.ticks[0]) * o.xk;
  const y = i => o.y0 + i * o.yk;
  const step = o.ticks[1] - o.ticks[0];
  o.ticks.forEach(function (v, i) {
    const gl = mk('line', {x1:x(v), x2:x(v), y1:837, y2:1231, stroke:'#ededed', 'stroke-width':1.2}, g);
    
    
    if (i < o.ticks.length - 1) {
      const m = mk('line', {x1:x(v + step / 2), x2:x(v + step / 2), y1:837, y2:1231, stroke:'#f4f4f4', 'stroke-width':1}, g);
      
      
    }
    const tk = mk('line', {x1:x(v), x2:x(v), y1:1231, y2:1234, stroke:'#555', 'stroke-width':1}, g);
    
    
    const t = mk('text', {x:x(v), y:1241, 'text-anchor':'middle', 'font-size':15, class:'g'}, g);
    t.textContent = o.fixed ? v.toFixed(1) : v;
    
    
  });
  o.terms.forEach(function (term, i) {
    const gl = mk('line', {x1:o.left, x2:o.right, y1:y(i), y2:y(i), stroke:'#efefef', 'stroke-width':1.2}, g);
    
    
    const tk = mk('line', {x1:o.left - 3, x2:o.left, y1:y(i), y2:y(i), stroke:'#555', 'stroke-width':1}, g);
    
    
    const lines = term.split('\n');
    lines.forEach(function (line, k) {
      const t = mk('text', {x:o.left - 4.5, y:y(i) + (k - (lines.length - 1) / 2) * 15, 'text-anchor':'end', 'font-size':13.6, class:'g'}, g);
      t.textContent = line;
      
      
    });
  });
  o.terms.forEach(function (term, i) {
    const d = 13.5 + (o.count[i] - o.cMin) / (o.cMax - o.cMin) * 4.5;
    const c = mk('circle', {cx:x(o.ratio[i]), cy:y(i), r:d / 2, fill:pColor(o.p[i], o.pLo, o.pHi)}, g);
    
    
  });
  const box = mk('rect', {x:o.left, y:837, width:o.right - o.left, height:394, fill:'none', stroke:'#9a9a9a', 'stroke-width':1.5}, g);
  
  
  const xl = mk('text', {x:o.xLab, y:1258, 'text-anchor':'middle', 'font-size':16}, g);
  xl.textContent = 'GeneRatio';
  
  
  const yl = mk('text', {x:o.yLab, y:1033, 'text-anchor':'middle', 'font-size':16, transform:'rotate(-90 ' + o.yLab + ' 1033)'}, g);
  yl.textContent = 'Description';
  
  
}
dotPlot({name:'dotplot-c', terms:cTerms, ratio:cGeneRatio, count:cCount, p:cPvalue, ticks:cTicks, fixed:false, x0:303.5, xk:38.45, y0:882.7, yk:75.65, left:297, right:465, cMin:6, cMax:10, pLo:0.00002, pHi:0.00019, xLab:381, yLab:11.5});
dotPlot({name:'dotplot-d', terms:dTerms, ratio:dGeneRatio, count:dCount, p:dPvalue, ticks:dTicks, fixed:true, x0:868.3, xk:100.85, y0:944.3, yk:179, left:858, right:1079.5, cMin:4, cMax:6, pLo:0.00007, pHi:0.0003, xLab:969, yLab:625.5});
dotPlot({name:'dotplot-e', terms:eTerms, ratio:eGeneRatio, count:eCount, p:ePvalue, ticks:eTicks, fixed:true, x0:1446.4, xk:124.05, y0:893.3, yk:93.67, left:1434, right:1706.5, cMin:3, cMax:5, pLo:0.006, pHi:0.04, xLab:1570, yLab:1241});

/* ---------- Panel F drawing ---------- */
function corrColor(v) {
  const stops = [[-0.27,'#c4e3ca'],[0,'#ffffff'],[0.25,'#f4c8b8'],[0.5,'#e2957c'],[0.75,'#cf5c40'],[1,'#b2170b']];
  if (v <= stops[0][0]) return stops[0][1];
  for (let i = 1; i < stops.length; i++) {
    if (v <= stops[i][0]) return lerpHex(stops[i-1][1], stops[i][1], (v - stops[i-1][0]) / (stops[i][0] - stops[i-1][0]));
  }
  return stops[stops.length - 1][1];
}
(function () {
  const g = grp('correlation-heatmap');
  const colX = c => 160.7 + 17.3 * c;
  const rowY = r => 1344.3 + 28.25 * r;
  corrRowLabels.forEach(function (name, r) {
    const t = mk('text', {x:145, y:rowY(r), 'text-anchor':'end', 'font-size':15, class:'g'}, g);
    t.textContent = name;
    
    
    const stars = corrStars[r].replace(/ /g, '');
    corrValues[r].forEach(function (v, c) {
      const cell = mk('rect', {x:colX(c) - 7.65, y:rowY(r) - 13, width:15.3, height:26, fill:corrColor(v / 100)}, g);
      
      
      const n = +stars[c];
      if (n > 0) {
        const s = mk('text', {x:colX(c), y:rowY(r) + 5.5, 'text-anchor':'middle', 'font-size':14, class:'star'}, g);
        s.textContent = n === 2 ? '**' : '*';
        
        
      }
    });
  });
  corrColLabels.forEach(function (name, c) {
    const tk = mk('line', {x1:colX(c), x2:colX(c), y1:1840, y2:1843, stroke:'#ccc', 'stroke-width':1}, g);
    
    
    const x = colX(c) + 5, y = 1847;
    const t = mk('text', {x:x, y:y, 'text-anchor':'end', 'font-size':13, class:'g', transform:'rotate(-45 ' + x + ' ' + y + ')'}, g);
    t.textContent = name;
    
    
  });
})();
</script>
</body>
</html>
